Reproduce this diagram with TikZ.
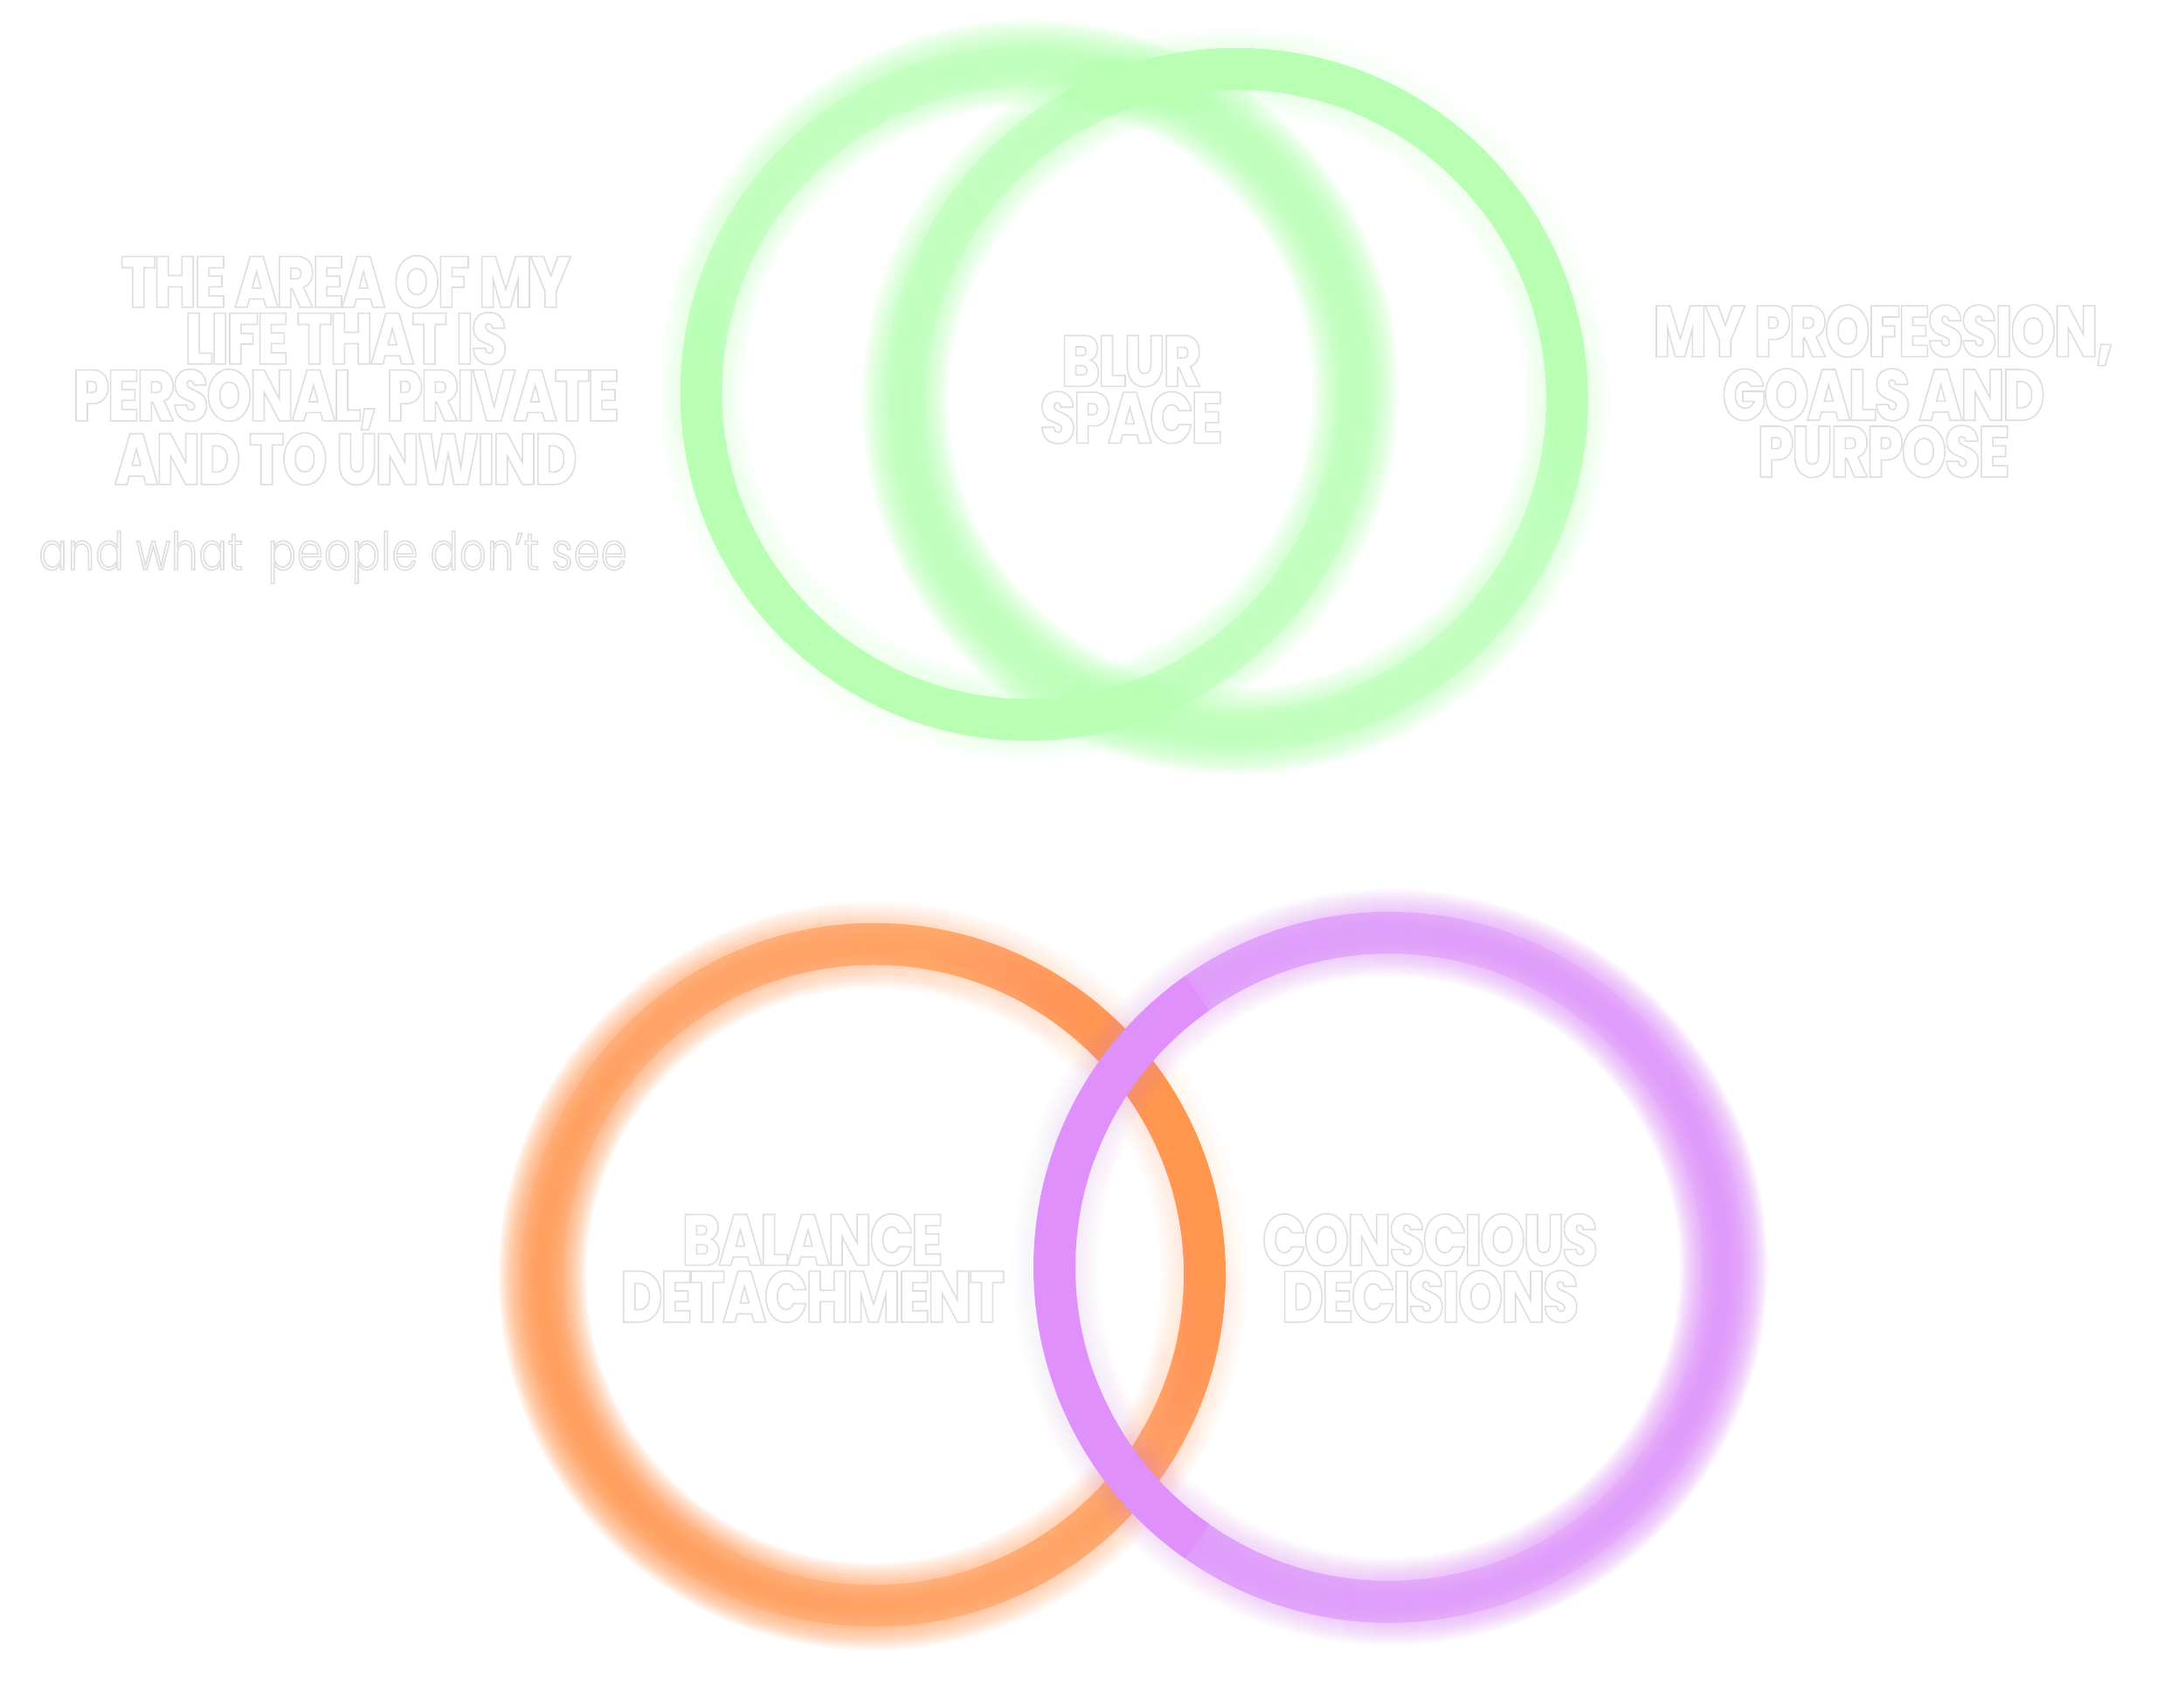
\documentclass[tikz,border=0pt]{standalone}
\usepackage{fontspec}
\setmainfont{Poppins}
\newfontfamily\headfont{Poppins}[BoldFont=* ExtraBold, FakeStretch=0.8, LetterSpace=-3]
\newfontfamily\thinfont{Poppins Light}[FakeStretch=0.8, LetterSpace=2]
\usetikzlibrary{fadings}
\definecolor{ringgreen}{RGB}{184,255,180}
\definecolor{ringorange}{RGB}{255,150,77}
\definecolor{ringpurple}{RGB}{224,144,250}
% opaque on the left, gone on the right
\pgfdeclarehorizontalshading{ringmask}{100bp}{color(0bp)=(white); color(22bp)=(white); color(78bp)=(black); color(100bp)=(black)}
\pgfdeclarefading{halfsharp}{\pgfuseshading{ringmask}}
% white letters with a faint grey edge (fill + stroke text mode)
\newcommand\edged{\special{pdf:literal direct 2 Tr 0.87 0.87 0.87 RG 0.45 w}}

\begin{document}
\begin{tikzpicture}[every node/.style={text=white, align=center},
    headline/.style={font=\headfont\bfseries\fontsize{23.5}{18.5}\selectfont},
    subline/.style={font=\thinfont\fontsize{17}{20}\selectfont}]
  \useasboundingbox (0,0) rectangle (25,19.5);
  \fill[white] (0,0) rectangle (25,19.5);
  % rings: sharp part + blurred part
  \foreach \cx/\cy/\r/\col/\ang in {11.77/15.02/3.75/ringgreen/45, 14.15/14.92/3.79/ringgreen/-135,
      10.00/4.90/3.79/ringorange/-160, 15.90/4.99/3.83/ringpurple/0} {
    \pgfmathsetmacro\bang{\ang+180}
    \draw[line width=4.8mm, \col, path fading=halfsharp, fading angle=\ang] (\cx,\cy) circle (\r);
    \foreach \w in {1.5,2,...,10}
      \draw[line width=\w mm, \col, draw opacity=0.11, path fading=halfsharp, fading angle=\bang] (\cx,\cy) circle (\r);
  }
  % purple passes over orange at both crossings
  \coordinate (pc) at (15.90,4.99);
  \foreach \a in {125,200}
    \draw[line width=4.8mm, ringpurple] (pc) ++(\a:3.83) arc[start angle=\a, delta angle=35, radius=3.83];
  \node[headline] (private) at (3.96,15.26) {\edged THE AREA OF MY\\LIFE THAT IS\\PERSONAL, PRIVATE\\AND TO UNWIND};
  \node[subline] (unseen) at (3.81,13.12) {\edged and what\ \ people don’t see};
  \node[headline] (blur) at (12.95,15.04) {\edged BLUR\\SPACE};
  \node[headline] (work) at (21.56,15.02) {\edged MY PROFESSION,\\GOALS AND\\PURPOSE};
  \node[headline] (balance) at (9.30,4.98) {\edged BALANCE\\DETACHMENT};
  \node[headline] (choices) at (16.37,4.98) {\edged CONSCIOUS\\DECISIONS};
\end{tikzpicture}
\end{document}
